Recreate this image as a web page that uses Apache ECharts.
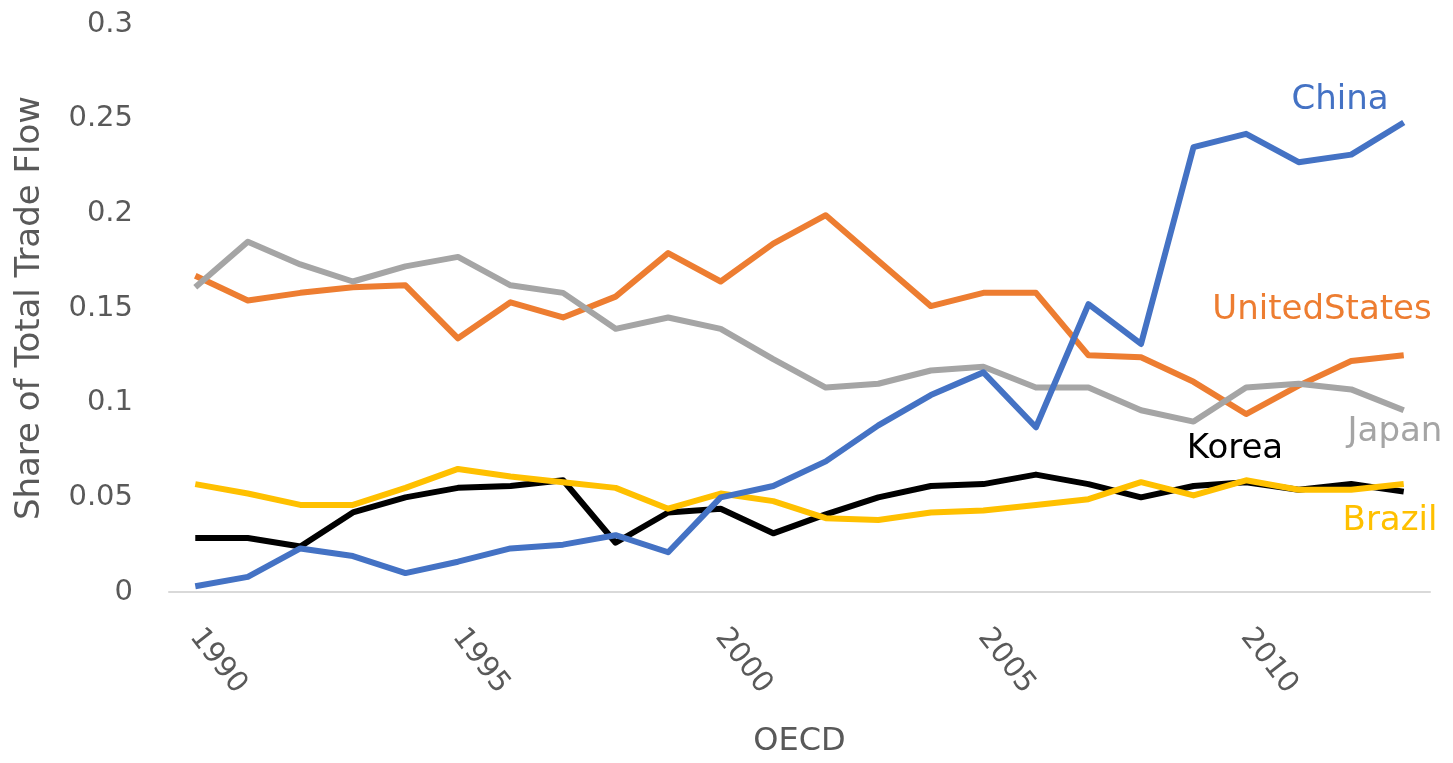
<!DOCTYPE html>
<html>
<head>
<meta charset="utf-8">
<script src="https://cdn.jsdelivr.net/npm/echarts@6/dist/echarts.min.js"></script>
<style>
html, body { margin: 0; padding: 0; background: #fff; }
#main { width: 1453px; height: 763px; }
</style>
</head>
<body>
<div id="main"></div>
<script>
var chart = echarts.init(document.getElementById('main'));

// years on the category axis
var years = ['1990','1991','1992','1993','1994','1995','1996','1997','1998','1999','2000','2001',
             '2002','2003','2004','2005','2006','2007','2008','2009','2010','2011','2012','2013'];

// share of total trade flow
var china = [0.003,0.008,0.023,0.019,0.010,0.016,0.023,0.025,0.030,0.021,0.050,0.056,
             0.069,0.088,0.104,0.116,0.087,0.152,0.131,0.235,0.242,0.227,0.231,0.248];
var unitedStates = [0.167,0.154,0.158,0.161,0.162,0.134,0.153,0.145,0.156,0.179,0.164,0.184,
                    0.199,0.175,0.151,0.158,0.158,0.125,0.124,0.111,0.094,0.109,0.122,0.125];
var japan = [0.161,0.185,0.173,0.164,0.172,0.177,0.162,0.158,0.139,0.145,0.139,0.123,
             0.108,0.110,0.117,0.119,0.108,0.108,0.096,0.090,0.108,0.110,0.107,0.096];
var korea = [0.0285,0.0285,0.024,0.042,0.050,0.055,0.056,0.059,0.026,0.042,0.044,0.031,
             0.041,0.050,0.056,0.057,0.062,0.057,0.050,0.056,0.058,0.054,0.057,0.053];
var brazil = [0.057,0.052,0.046,0.046,0.055,0.065,0.061,0.058,0.055,0.044,0.052,0.048,
              0.039,0.038,0.042,0.043,0.046,0.049,0.058,0.051,0.059,0.054,0.054,0.057];

var yTicks = ['0','0.05','0.1','0.15','0.2','0.25','0.3'];

var fontFam = 'DejaVu Sans';
var axisGrey = '#595959';

function lineSeries(name, data, color) {
    return {
        name: name,
        type: 'line',
        data: data,
        symbol: 'none',
        lineStyle: { color: color, width: 6, join: 'round' },
        itemStyle: { color: color }
    };
}

function label(text, x, y, color) {
    return {
        type: 'text',
        x: x, y: y,
        style: {
            text: text,
            fill: color,
            font: '34px "' + fontFam + '"',
            align: 'center',
            verticalAlign: 'middle'
        }
    };
}

var option = {
    backgroundColor: '#ffffff',
    animation: false,
    grid: { left: 169, right: 23, top: 24, bottom: 169 },
    xAxis: {
        type: 'category',
        data: years,
        boundaryGap: true,
        name: 'OECD',
        nameLocation: 'middle',
        nameGap: 134,
        nameTextStyle: { color: axisGrey, fontFamily: fontFam, fontSize: 32 },
        axisLine: { lineStyle: { color: '#d9d9d9', width: 2 } },
        axisTick: { show: false },
        axisLabel: {
            interval: 4,
            rotate: -52,
            margin: 40,
            color: axisGrey,
            fontFamily: fontFam,
            fontSize: 29
        },
        splitLine: { show: false }
    },
    yAxis: {
        type: 'value',
        min: 0,
        max: 0.3,
        interval: 0.05,
        name: 'Share of Total Trade Flow',
        nameLocation: 'middle',
        nameGap: 122,
        nameRotate: 90,
        nameTextStyle: { color: axisGrey, fontFamily: fontFam, fontSize: 34 },
        axisLine: { show: false },
        axisTick: { show: false },
        splitLine: { show: false },
        axisLabel: {
            margin: 36,
            color: axisGrey,
            fontFamily: fontFam,
            fontSize: 29,
            formatter: function (v) {
                return yTicks[Math.round(v / 0.05)];
            }
        }
    },
    series: [
        lineSeries('Korea', korea, '#000000'),
        lineSeries('United States', unitedStates, '#ed7d31'),
        lineSeries('Japan', japan, '#a5a5a5'),
        lineSeries('Brazil', brazil, '#ffc000'),
        lineSeries('China', china, '#4472c4')
    ],
    graphic: [
        label('China', 1340, 100, '#4472c4'),
        label('UnitedStates', 1322, 310, '#ed7d31'),
        label('Japan', 1395, 432, '#a5a5a5'),
        label('Korea', 1235, 449, '#000000'),
        label('Brazil', 1390, 521, '#ffc000')
    ]
};

chart.setOption(option);
</script>
</body>
</html>
